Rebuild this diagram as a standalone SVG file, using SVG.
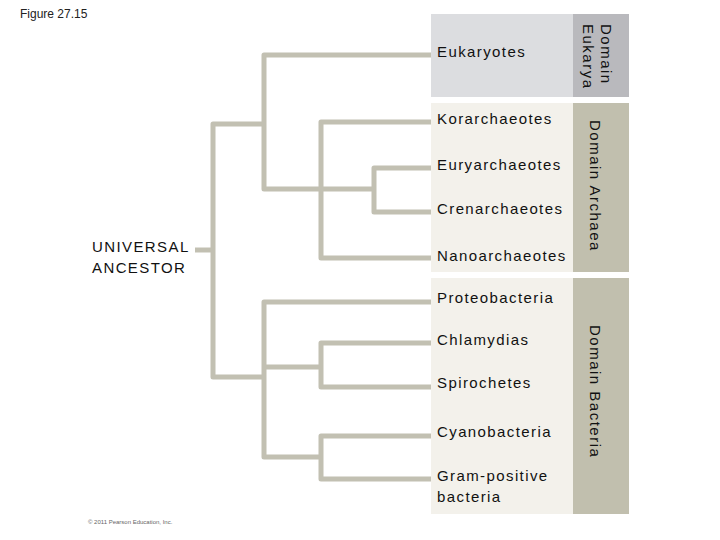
<svg xmlns="http://www.w3.org/2000/svg" width="720" height="540" viewBox="0 0 720 540">
<style>
.t{font-family:"Liberation Sans",Arial,sans-serif;font-size:15px;letter-spacing:1.4px;fill:#111}
.d{font-family:"Liberation Sans",Arial,sans-serif;font-size:15px;letter-spacing:1.5px;fill:#111}
.c{fill:none;stroke:#c2c0b2;stroke-width:5;stroke-linejoin:round;stroke-linecap:butt}
</style>
<rect width="720" height="540" fill="#fff"/>
<text x="20" y="18" font-family="Liberation Sans,Arial,sans-serif" font-size="12" fill="#222">Figure 27.15</text>
<g id="eukarya">
<rect x="431" y="14" width="142" height="83" fill="#dcdde0"/>
<rect x="573" y="14" width="56" height="83" fill="#b9b9bd"/>
<text class="t" x="437" y="57">Eukaryotes</text>
<text class="d" transform="translate(601,24) rotate(90)">Domain</text>
<text class="d" transform="translate(583,24) rotate(90)">Eukarya</text>
</g>
<g id="archaea">
<rect x="431" y="103" width="142" height="169" fill="#f3f1eb"/>
<rect x="573" y="103" width="56" height="169" fill="#c1bfae"/>
<text class="t" x="437" y="124">Korarchaeotes</text>
<text class="t" x="437" y="170">Euryarchaeotes</text>
<text class="t" x="437" y="214">Crenarchaeotes</text>
<text class="t" x="437" y="261">Nanoarchaeotes</text>
<text class="d" transform="translate(590,120) rotate(90)">Domain Archaea</text>
</g>
<g id="bacteria">
<rect x="431" y="278" width="142" height="236" fill="#f3f1eb"/>
<rect x="573" y="278" width="56" height="236" fill="#c1bfae"/>
<text class="t" x="437" y="303">Proteobacteria</text>
<text class="t" x="437" y="345">Chlamydias</text>
<text class="t" x="437" y="388">Spirochetes</text>
<text class="t" x="437" y="437">Cyanobacteria</text>
<text class="t" x="437" y="481">Gram-positive</text>
<text class="t" x="437" y="502">bacteria</text>
<text class="d" transform="translate(590,325) rotate(90)">Domain Bacteria</text>
</g>
<g id="ancestor">
<text class="t" x="92" y="252" letter-spacing="0.3">UNIVERSAL</text>
<text class="t" x="92" y="273" letter-spacing="0.3">ANCESTOR</text>
</g>
<g id="connectors">
<path class="c" d="M195,250 H213"/>
<path class="c" d="M264,124 H213 V377 H264"/>
<path class="c" d="M431,55 H264 V189 H374"/>
<path class="c" d="M431,168 H374 V212 H431"/>
<path class="c" d="M431,122 H321 V258 H431"/>
<path class="c" d="M431,302 H264 V457 H321"/>
<path class="c" d="M264,367 H321"/>
<path class="c" d="M431,343 H321 V387 H431"/>
<path class="c" d="M431,436 H321 V479 H431"/>
</g>
<text x="88" y="524" font-family="Liberation Sans,Arial,sans-serif" font-size="6" fill="#666">© 2011 Pearson Education, Inc.</text>
</svg>
